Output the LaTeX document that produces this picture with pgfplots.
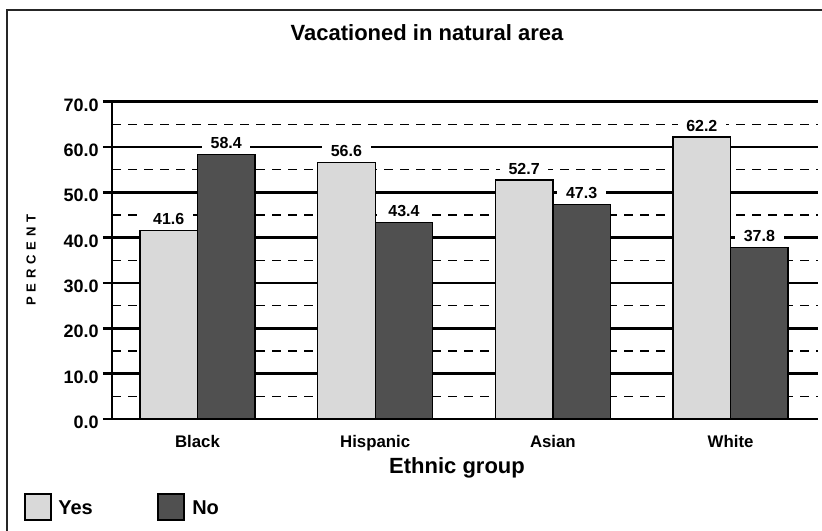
\documentclass[border=0pt]{standalone}
\usepackage{fontspec}
\setmainfont{Liberation Sans}
\usepackage{pgfplots}
\pgfplotsset{compat=1.18}

\definecolor{yesgray}{RGB}{217,217,217}
\definecolor{nogray}{RGB}{80,80,80}

\newcommand{\fs}[1]{\bfseries\fontsize{#1}{#1}\selectfont}

\begin{document}
\begin{tikzpicture}[x=0.75pt,y=0.75pt]
\useasboundingbox (0,0) rectangle (822,531);
% frame (top and left only)
\draw[line width=1.5pt, black!85] (7,0) -- (7,521.3) -- (822,521.3);

\begin{axis}[
  at={(84pt,84pt)}, anchor=south west,
  scale only axis,
  width=529.5pt, height=238pt,
  xmin=-0.481, xmax=3.492,
  ymin=0, ymax=70,
  ybar=0pt, bar width=0.3236,
  enlargelimits=false,
  axis x line*=bottom, axis y line*=left,
  axis line style={line width=2pt, -},
  xtick={0,1,2,3},
  xticklabels={Black,Hispanic,Asian,White},
  x tick style={draw=none},
  xticklabel style={font=\fs{12.6}, yshift=-2pt},
  ytick={0,10,...,70},
  minor ytick={5,15,...,65},
  tick align=outside,
  major tick length=6.75pt,
  minor tick length=0pt,
  y tick style={line width=2pt, black},
  yticklabel style={font=\fs{13.5}, yshift=-2.4pt, inner xsep=3pt,
    /pgf/number format/.cd, fixed, fixed zerofill, precision=1, assume math mode=true},
  ymajorgrids, yminorgrids,
  major grid style={line width=2pt, black},
  minor grid style={line width=1pt, black, dash pattern=on 7pt off 5pt},
  title={Vacationed in natural area},
  title style={font=\fs{16.5}, at={(axis description cs:0.4462,1.1661)}, anchor=base},
  xlabel={Ethnic group},
  xlabel style={font=\fs{16.5}, at={(axis description cs:0.4887,-0.1733)}, anchor=base},
  ylabel={P\kern3.6pt E\kern3.6pt R\kern3.6pt C\kern3.6pt E\kern3.6pt N\kern3.6pt T},
  ylabel style={font=\fs{9.8}, at={(axis description cs:-0.1147,0.501)}, anchor=center, rotate=0},
  nodes near coords,
  nodes near coords style={font=\fs{12}, fill=white, inner xsep=6.5pt, inner ysep=2pt,
    anchor=base, yshift=4.5pt,
    /pgf/number format/.cd, fixed, fixed zerofill, precision=1, assume math mode=true},
]
\addplot[fill=yesgray, draw=black, line width=1pt] coordinates {(0,41.6) (1,56.6) (2,52.7) (3,62.2)};
\addplot[fill=nogray, draw=black, line width=1pt] coordinates {(0,58.4) (1,43.4) (2,47.3) (3,37.8)};
\end{axis}

% legend
\draw[fill=yesgray, line width=1pt] (25,11) rectangle (51,37);
\node[anchor=base west, inner sep=0pt, font=\fs{15}] at (58,16) {Yes};
\draw[fill=nogray, line width=1pt] (158,11) rectangle (184,37);
\node[anchor=base west, inner sep=0pt, font=\fs{15}] at (192,16) {No};
\end{tikzpicture}
\end{document}
